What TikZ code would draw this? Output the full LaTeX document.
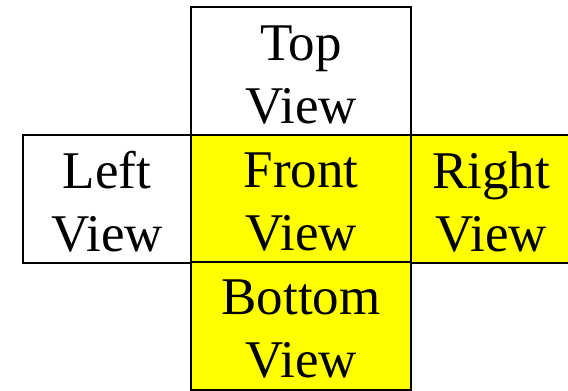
\documentclass[tikz,border=0pt]{standalone}
\usepackage{fontspec}
\setmainfont{Liberation Serif}
\definecolor{hilite}{RGB}{255,255,0}
\begin{document}
\begin{tikzpicture}[x=1pt,y=1pt,
  face/.style={draw=black, line width=2pt, minimum width=220pt, minimum height=128pt,
    inner sep=0pt},
  lit/.style={face, fill=hilite},
  caption/.style={inner sep=0pt, align=center, font=\fontsize{53}{63}\selectfont}]
  \useasboundingbox (0,0) rectangle (568,391);
  % the five faces of the unfolded box
  \node[face, minimum width=168pt] (left) at (107,192) {};
  \node[face] (top) at (301,320) {};
  \node[lit] (front) at (301,192) {};
  \node[lit, minimum width=160pt] (right) at (491,192) {};
  \node[lit] (bottom) at (301,64.5) {};
  % face names
  \node[caption] (lefttxt) at ([yshift=-3pt]left.center) {Left\\View};
  \node[caption] (toptxt) at ([yshift=-4pt]top.center) {Top\\View};
  \node[caption] (fronttxt) at ([yshift=-3pt]front.center) {Front\\View};
  \node[caption] (righttxt) at ([yshift=-3pt]right.center) {Right\\View};
  \node[caption] (bottomtxt) at ([yshift=-3pt]bottom.center) {Bottom\\View};
\end{tikzpicture}
\end{document}
